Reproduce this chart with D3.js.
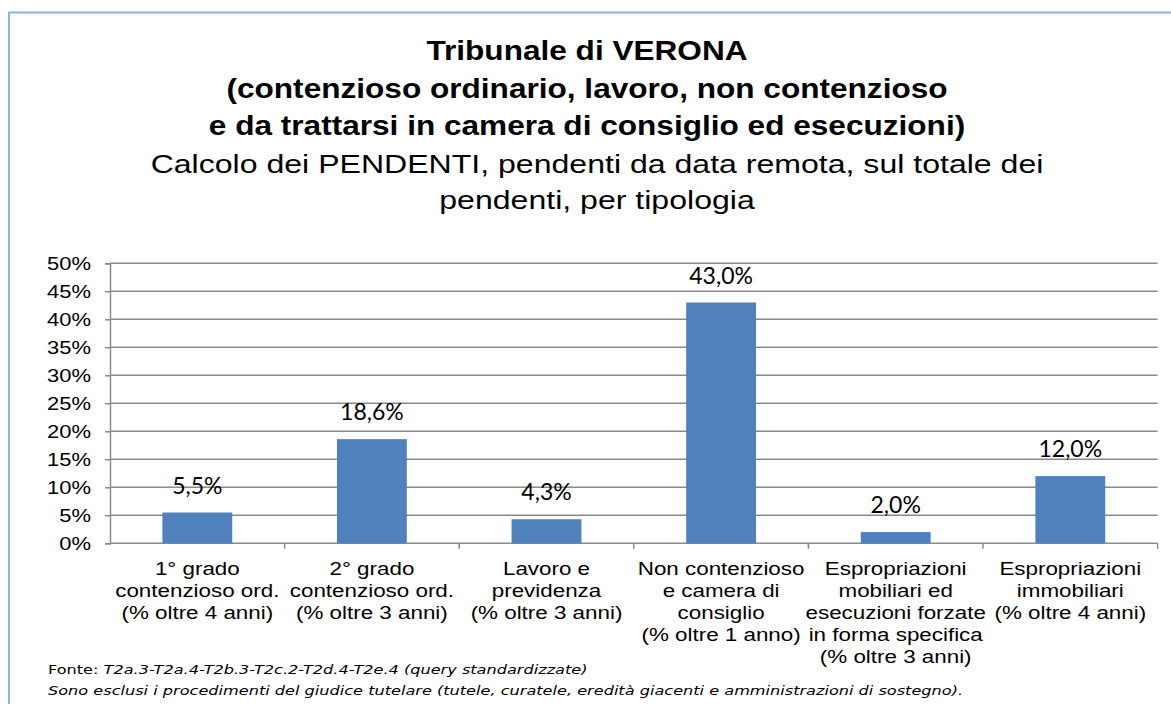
<!DOCTYPE html>
<html>
<head>
<meta charset="utf-8">
<script src="https://cdn.jsdelivr.net/npm/d3@7"></script>
<style>
  body { margin: 0; background: #fff; }
  svg { display: block; }
</style>
</head>
<body>
<svg id="chart" width="1171" height="704"></svg>
<script>
// Tribunale di Verona -- pendenti da data remota per tipologia

var categories = ["1g", "2g", "lav", "nonc", "espm", "espi"];
var categoryLabels = [
  ["1° grado", "contenzioso ord.", "(% oltre 4 anni)"],
  ["2° grado", "contenzioso ord.", "(% oltre 3 anni)"],
  ["Lavoro e", "previdenza", "(% oltre 3 anni)"],
  ["Non contenzioso", "e camera di", "consiglio", "(% oltre 1 anno)"],
  ["Espropriazioni", "mobiliari ed", "esecuzioni forzate", "in forma specifica", "(% oltre 3 anni)"],
  ["Espropriazioni", "immobiliari", "(% oltre 4 anni)"]
];
var values = [0.055, 0.186, 0.043, 0.430, 0.020, 0.120];
var yTicks = [0, 0.05, 0.10, 0.15, 0.20, 0.25, 0.30, 0.35, 0.40, 0.45, 0.50];

var titleLines = [
  "Tribunale di VERONA",
  "(contenzioso ordinario, lavoro, non contenzioso",
  "e da trattarsi in camera di consiglio ed esecuzioni)"
];
var subtitleLines = [
  "Calcolo dei PENDENTI, pendenti da data remota, sul totale dei",
  "pendenti, per tipologia"
];

var sx = 1.28; // the reference is stretched sideways

var svg = d3.select("#chart");

// chart frame (only left and top edges visible)
svg.append("path")
  .attr("d", "M9,720 V12.5 H1180")
  .attr("fill", "none")
  .attr("stroke", "#8db3e2")
  .attr("stroke-width", 2);

///////////////////////////////////////////////////////////////////////////////
// Titles

var cx = 587;
titleLines.forEach(function (t, i) {
  svg.append("text")
    .attr("transform", "translate(" + cx + "," + (60 + i * 37.6) + ") scale(1.17,1)")
    .attr("text-anchor", "middle")
    .attr("font-family", "Liberation Sans, Arial, sans-serif")
    .attr("font-weight", "bold")
    .attr("font-size", 27)
    .attr("fill", "#000")
    .text(t);
});
subtitleLines.forEach(function (t, i) {
  svg.append("text")
    .attr("transform", "translate(" + (cx + 10) + "," + (172.5 + i * 36.5) + ") scale(1.21,1)")
    .attr("text-anchor", "middle")
    .attr("font-family", "Liberation Sans, Arial, sans-serif")
    .attr("font-size", 26.5)
    .attr("fill", "#000")
    .text(t);
});

///////////////////////////////////////////////////////////////////////////////
// Scales and axes

var x = d3.scaleBand()
  .domain(categories)
  .range([110, 1157.6])
  .paddingInner(0.6)
  .paddingOuter(0.3);

var xEdges = d3.scaleBand().domain(categories).range([110, 1157.6]);

var y = d3.scaleLinear().domain([0, 0.5]).range([543.3, 263.3]);

var grid = svg.append("g");
grid.selectAll("line")
  .data(yTicks.slice(1))
  .enter().append("line")
  .attr("x1", 110).attr("x2", 1157.6)
  .attr("y1", function (d) { return y(d); })
  .attr("y2", function (d) { return y(d); })
  .attr("stroke", "#8a8a8a")
  .attr("stroke-width", 1.5);

var yAxis = svg.append("g")
  .attr("transform", "translate(110,0)")
  .call(d3.axisLeft(y).tickValues(yTicks).tickSize(5).tickFormat(d3.format(".0%")));
yAxis.select(".domain").attr("stroke", "#8a8a8a").attr("stroke-width", 1.5);
yAxis.selectAll(".tick line").attr("stroke", "#8a8a8a").attr("stroke-width", 1.5);
yAxis.selectAll(".tick text")
  .attr("x", -19 / 1.22)
  .attr("dy", "0.36em")
  .attr("transform", "scale(1.22,1)")
  .attr("font-family", "Liberation Sans, Arial, sans-serif")
  .attr("font-size", 18)
  .attr("fill", "#000");

// x axis line with ticks on category edges
var xAxis = svg.append("g");
xAxis.append("line")
  .attr("x1", 110).attr("x2", 1157.6)
  .attr("y1", y(0)).attr("y2", y(0))
  .attr("stroke", "#8a8a8a").attr("stroke-width", 1.5);
xAxis.selectAll("line.tk")
  .data(categories)
  .enter().append("line")
  .attr("class", "tk")
  .attr("x1", function (d) { return xEdges(d) + xEdges.bandwidth(); })
  .attr("x2", function (d) { return xEdges(d) + xEdges.bandwidth(); })
  .attr("y1", y(0)).attr("y2", y(0) + 5.5)
  .attr("stroke", "#8a8a8a").attr("stroke-width", 1.5);

///////////////////////////////////////////////////////////////////////////////
// Bars and labels

svg.append("g").selectAll("rect")
  .data(values)
  .enter().append("rect")
  .attr("x", function (d, i) { return x(categories[i]); })
  .attr("width", x.bandwidth())
  .attr("y", function (d) { return y(d); })
  .attr("height", function (d) { return y(0) - y(d); })
  .attr("fill", "#4f81bd");

var fmt = function (d) { return d3.format(".1f")(d * 100).replace(".", ",") + "%"; };

svg.append("g").selectAll("text")
  .data(values)
  .enter().append("text")
  .attr("x", function (d, i) { return x(categories[i]) + x.bandwidth() / 2; })
  .attr("y", function (d) { return y(d) - 19; })
  .attr("text-anchor", "middle")
  .attr("font-family", "Lato, sans-serif")
  .attr("font-size", 23)
  .attr("fill", "#000")
  .text(fmt);

var catG = svg.append("g").selectAll("g")
  .data(categoryLabels)
  .enter().append("g")
  .attr("transform", function (d, i) {
    return "translate(" + (xEdges(categories[i]) + xEdges.bandwidth() / 2) + ",575) scale(" + sx + ",1)";
  });
catG.selectAll("text")
  .data(function (d) { return d; })
  .enter().append("text")
  .attr("y", function (d, j) { return j * 22; })
  .attr("text-anchor", "middle")
  .attr("font-family", "Liberation Sans, Arial, sans-serif")
  .attr("font-size", 17.5)
  .attr("fill", "#000")
  .text(function (d) { return d; });

///////////////////////////////////////////////////////////////////////////////
// Footer

var foot1 = svg.append("text")
  .attr("transform", "translate(48,674) scale(" + sx + ",1)")
  .attr("font-family", "DejaVu Sans, Verdana, sans-serif")
  .attr("font-size", 12.6)
  .attr("fill", "#000");
foot1.append("tspan").text("Fonte: ");
foot1.append("tspan").attr("font-style", "italic")
  .text("T2a.3-T2a.4-T2b.3-T2c.2-T2d.4-T2e.4 (query standardizzate)");

svg.append("text")
  .attr("transform", "translate(48,695) scale(" + sx + ",1)")
  .attr("font-family", "DejaVu Sans, Verdana, sans-serif")
  .attr("font-size", 12.6)
  .attr("font-style", "italic")
  .attr("fill", "#000")
  .text("Sono esclusi i procedimenti del giudice tutelare (tutele, curatele, eredità giacenti e amministrazioni di sostegno).");
</script>
</body>
</html>
